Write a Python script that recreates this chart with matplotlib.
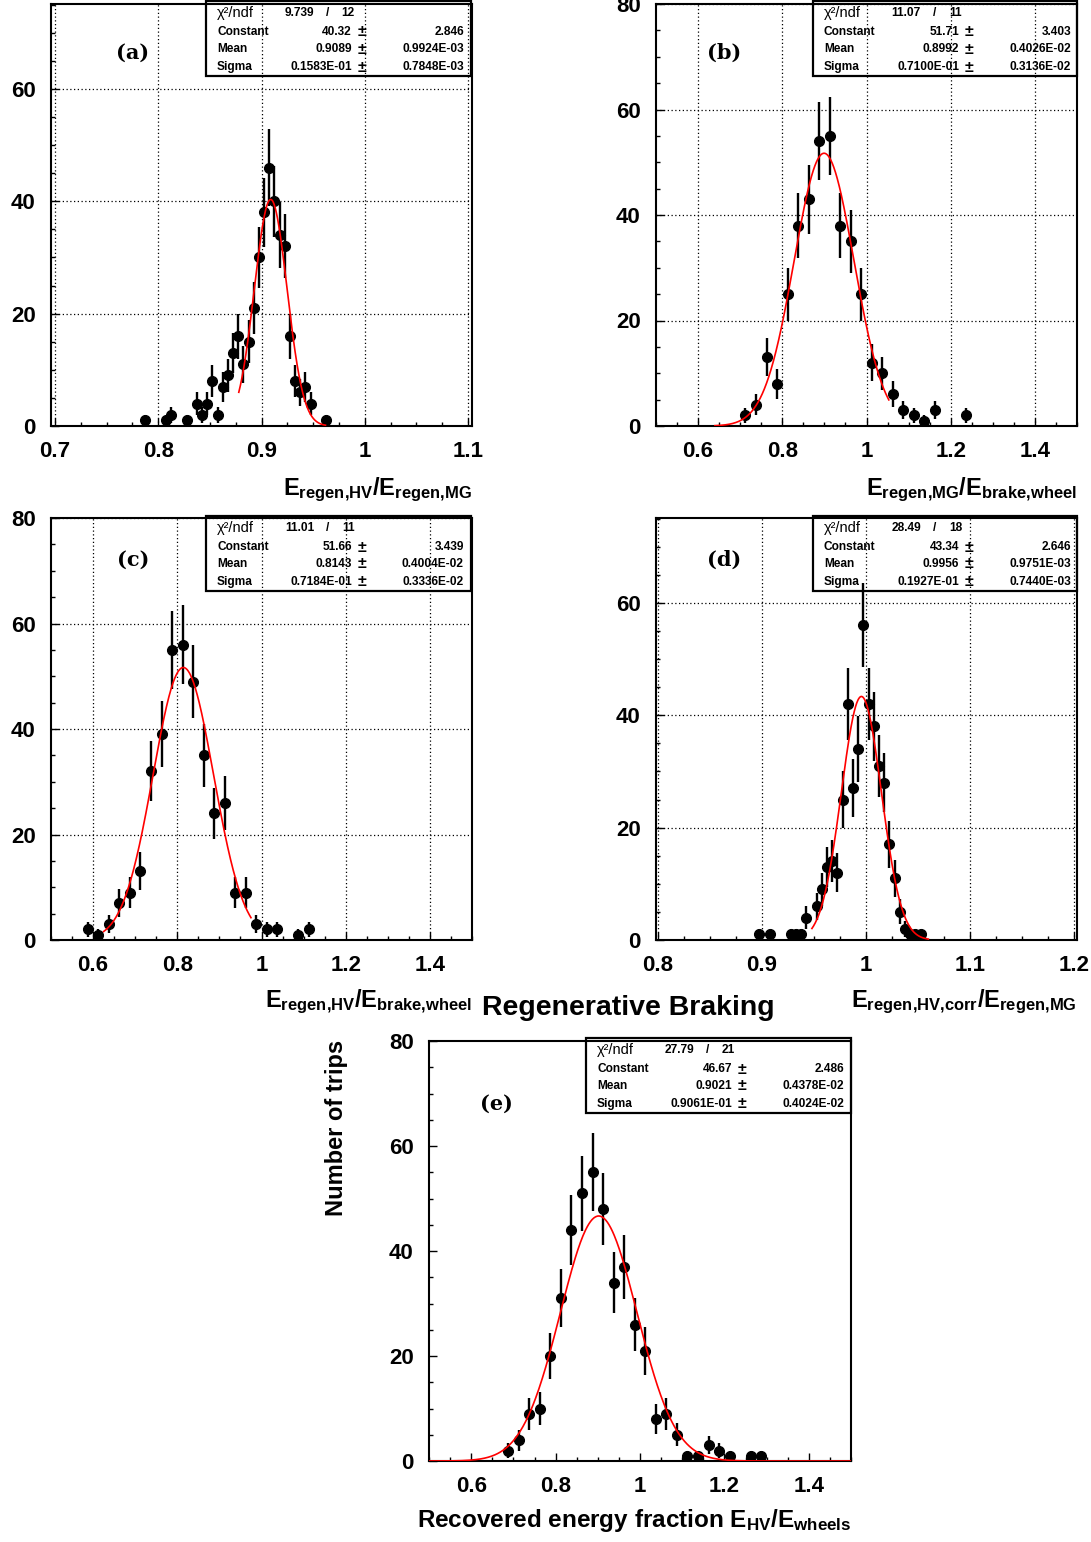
import numpy as np
import matplotlib
matplotlib.use('Agg')
import matplotlib.pyplot as plt
from matplotlib.patches import Rectangle
from matplotlib.ticker import MultipleLocator, FormatStrFormatter

plt.rcParams['font.family'] = ['Liberation Sans', 'DejaVu Sans']
plt.rcParams['font.weight'] = 'bold'
plt.rcParams['mathtext.fontset'] = 'custom'
plt.rcParams['mathtext.rm'] = 'Liberation Sans:bold'
plt.rcParams['mathtext.it'] = 'Liberation Sans:bold'
plt.rcParams['mathtext.bf'] = 'Liberation Sans:bold'
plt.rcParams['mathtext.default'] = 'rm'

# ---- data (bin centres, counts) ----
xa = [0.7875, 0.8075, 0.8125, 0.8275, 0.8375, 0.8425, 0.8475, 0.8525, 0.8575, 0.8625,
      0.8675, 0.8725, 0.8775, 0.8825, 0.8875, 0.8925, 0.8975, 0.9025, 0.9075, 0.9125,
      0.9175, 0.9225, 0.9275, 0.9325, 0.9375, 0.9425, 0.9475, 0.9625]
ya = [1, 1, 2, 1, 4, 2, 4, 8, 2, 7, 9, 13, 16, 11, 15, 21, 30, 38, 46, 40,
      34, 32, 16, 8, 6, 7, 4, 1]

xb = [0.7125, 0.7375, 0.7625, 0.7875, 0.8125, 0.8375, 0.8625, 0.8875, 0.9125, 0.9375,
      0.9625, 0.9875, 1.0125, 1.0375, 1.0625, 1.0875, 1.1125, 1.1375, 1.1625, 1.2375]
yb = [2, 4, 13, 8, 25, 38, 43, 54, 55, 38, 35, 25, 12, 10, 6, 3, 2, 1, 3, 2]

xc = [0.5875, 0.6125, 0.6375, 0.6625, 0.6875, 0.7125, 0.7375, 0.7625, 0.7875, 0.8125,
      0.8375, 0.8625, 0.8875, 0.9125, 0.9375, 0.9625, 0.9875, 1.0125, 1.0375, 1.0875, 1.1125]
yc = [2, 1, 3, 7, 9, 13, 32, 39, 55, 56, 49, 35, 24, 26, 9, 9, 3, 2, 2, 1, 2]

xd = [0.8975, 0.9075, 0.9275, 0.9325, 0.9375, 0.9425, 0.9525, 0.9575, 0.9625, 0.9675,
      0.9725, 0.9775, 0.9825, 0.9875, 0.9925, 0.9975, 1.0025, 1.0075, 1.0125, 1.0175,
      1.0225, 1.0275, 1.0325, 1.0375, 1.0425, 1.0475, 1.0525]
yd = [1, 1, 1, 1, 1, 4, 6, 9, 13, 14, 12, 25, 42, 27, 34, 56, 42, 38, 31, 28,
      17, 11, 5, 2, 1, 1, 1]

xe = [0.6875, 0.7125, 0.7375, 0.7625, 0.7875, 0.8125, 0.8375, 0.8625, 0.8875, 0.9125,
      0.9375, 0.9625, 0.9875, 1.0125, 1.0375, 1.0625, 1.0875, 1.1125, 1.1375, 1.1625,
      1.1875, 1.2125, 1.2625, 1.2875]
ye = [2, 4, 9, 10, 20, 31, 44, 51, 55, 48, 34, 37, 26, 21, 8, 9, 5, 1, 1, 3,
      2, 1, 1, 1]

# gaussian fit results: constant, mean, sigma
fit_a = [40.32, 0.9089, 0.01583]
fit_b = [51.71, 0.8992, 0.07100]
fit_c = [51.66, 0.8143, 0.07184]
fit_d = [43.34, 0.9956, 0.01927]
fit_e = [46.67, 0.9021, 0.09061]

# stat box strings: chi2, ndf, (value, error) x3
stat_a = ['9.739', '12', ['40.32', '2.846'], ['0.9089', '0.9924E-03'], ['0.1583E-01', '0.7848E-03']]
stat_b = ['11.07', '11', ['51.71', '3.403'], ['0.8992', '0.4026E-02'], ['0.7100E-01', '0.3136E-02']]
stat_c = ['11.01', '11', ['51.66', '3.439'], ['0.8143', '0.4004E-02'], ['0.7184E-01', '0.3336E-02']]
stat_d = ['28.49', '18', ['43.34', '2.646'], ['0.9956', '0.9751E-03'], ['0.1927E-01', '0.7440E-03']]
stat_e = ['27.79', '21', ['46.67', '2.486'], ['0.9021', '0.4378E-02'], ['0.9061E-01', '0.4024E-02']]

W, H = 1091, 1542
fig = plt.figure(figsize=(W / 100, H / 100), dpi=100)

def fx(x):
    return x / W

def fy(y):
    return 1 - y / H

def panel(rect, x, y, fit, frange, xlim, ylim, xmaj, xmin, yticks, grid=True):
    l, t, r, b = rect
    ax = fig.add_axes([fx(l), fy(b), (r - l) / W, (b - t) / H])
    y = np.array(y, dtype=float)
    ax.errorbar(x, y, yerr=np.sqrt(y), fmt='o', color='black', ms=7, elinewidth=1.7,
                capsize=0, zorder=4)
    c, mu, s = fit
    xx = np.linspace(frange[0], frange[1], 500)
    ax.plot(xx, c * np.exp(-0.5 * ((xx - mu) / s) ** 2), color='red', lw=1.2, zorder=5)
    ax.set_xlim(*xlim)
    ax.set_ylim(*ylim)
    ax.xaxis.set_major_locator(MultipleLocator(xmaj))
    ax.xaxis.set_minor_locator(MultipleLocator(xmin))
    ax.set_yticks(yticks)
    ax.yaxis.set_minor_locator(MultipleLocator(5))
    ax.xaxis.set_major_formatter(FormatStrFormatter('%g'))
    ax.yaxis.set_major_formatter(FormatStrFormatter('%g'))
    ax.tick_params(which='both', direction='in', top=False, right=False, labelsize=16, pad=11, width=1)
    ax.tick_params(which='major', length=6)
    ax.tick_params(which='minor', length=3)
    for lab in ax.get_xticklabels() + ax.get_yticklabels():
        lab.set_fontweight('bold')
    for sp in ax.spines.values():
        sp.set_linewidth(1.5)
    if grid:
        ax.grid(True, which='major', color='black', ls=(0, (1, 2)), lw=0.9)
    return ax

def statbox(L, T, R, st):
    B = T + 75
    fig.add_artist(Rectangle((fx(L), fy(B)), (R - L) / W, (B - T) / H, transform=fig.transFigure,
                             fill=False, lw=1.6, ec='black', zorder=10))
    rows = [T + 12, T + 31, T + 48, T + 66]
    kw = dict(fontsize=8.6, fontweight='bold', va='center', zorder=11)
    fig.text(fx(L + 11), fy(rows[0]), 'χ²/ndf', fontsize=10.5, fontweight='normal', va='center')
    fig.text(fx(L + 108), fy(rows[0]), st[0], ha='right', **kw)
    fig.text(fx(L + 122), fy(rows[0]), '/', ha='center', **kw)
    fig.text(fx(L + 149), fy(rows[0]), st[1], ha='right', **kw)
    names = ['Constant', 'Mean', 'Sigma']
    for i in range(3):
        fig.text(fx(L + 11), fy(rows[i + 1]), names[i], ha='left', **kw)
        fig.text(fx(L + 146), fy(rows[i + 1]), st[i + 2][0], ha='right', **kw)
        fig.text(fx(L + 156), fy(rows[i + 1]), '±', ha='center', fontsize=11.5,
                 fontweight='bold', va='center')
        fig.text(fx(L + 258), fy(rows[i + 1]), st[i + 2][1], ha='right', **kw)

# (a)
panel((51, 4, 472, 426), xa, ya, fit_a, (0.878, 0.962), (0.6961, 1.1039), (0, 75.1),
      0.1, 0.025, [0, 20, 40, 60])
statbox(206, 1, 471, stat_a)
# (b)
panel((656, 4, 1077, 426), xb, yb, fit_b, (0.64, 1.053), (0.5, 1.5), (0, 80),
      0.2, 0.05, [0, 20, 40, 60, 80])
statbox(813, 1, 1077, stat_b)
# (c)
panel((51, 518, 472, 940), xc, yc, fit_c, (0.625, 0.975), (0.5, 1.5), (0, 80),
      0.2, 0.05, [0, 20, 40, 60, 80])
statbox(206, 516, 471, stat_c)
# (d)
panel((656, 518, 1077, 940), xd, yd, fit_d, (0.948, 1.06), (0.798, 1.203), (0, 75.1),
      0.1, 0.025, [0, 20, 40, 60])
statbox(813, 516, 1077, stat_d)
# (e)
panel((429, 1041, 851, 1461), xe, ye, fit_e, (0.5, 1.5), (0.5, 1.5), (0, 80),
      0.2, 0.05, [0, 20, 40, 60, 80], grid=False)
statbox(586, 1038, 851, stat_e)

# panel letters
for lab, (px, py) in zip(['(a)', '(b)', '(c)', '(d)', '(e)'],
                         [(133, 53), (724, 53), (133, 560), (724, 560), (496, 1104)]):
    fig.text(fx(px), fy(py), lab, family='DejaVu Serif', fontweight='bold', fontsize=15,
             ha='center', va='center')

# axis titles
fig.text(fx(472), fy(490), r'$E_{regen{,}HV}/E_{regen{,}MG}$', fontsize=17, ha='right', va='center')
fig.text(fx(1077), fy(490), r'$E_{regen{,}MG}/E_{brake{,}wheel}$', fontsize=17, ha='right', va='center')
fig.text(fx(472), fy(1002), r'$E_{regen{,}HV}/E_{brake{,}wheel}$', fontsize=17, ha='right', va='center')
fig.text(fx(1077), fy(1002), r'$E_{regen{,}HV{,}corr}/E_{regen{,}MG}$', fontsize=17, ha='right', va='center')
fig.text(fx(628), fy(1008), 'Regenerative Braking', fontsize=20.5, fontweight='bold',
         ha='center', va='center')
fig.text(fx(851), fy(1520), r'Recovered energy fraction $E_{HV}/E_{wheels}$', fontsize=17.5,
         fontweight='bold', ha='right', va='center')
fig.text(fx(337), fy(1040), 'Number of trips', fontsize=17, fontweight='bold', rotation=90,
         ha='center', va='top')

fig.savefig('out.png', dpi=100)
